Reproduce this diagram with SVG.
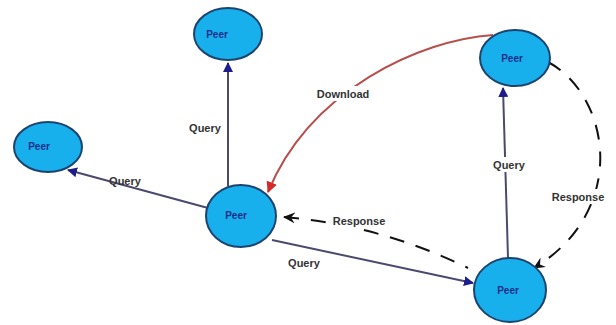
<svg xmlns="http://www.w3.org/2000/svg" width="616" height="325" viewBox="0 0 616 325">
<style>
.peer ellipse{fill:#17b0ec;stroke:#1d4470;stroke-width:2}
.peer text{font-family:"Liberation Sans",Arial,sans-serif;font-size:10px;font-weight:bold;fill:#1a2f8a;text-anchor:middle}
.q{stroke:#4a4a6e;stroke-width:2;fill:none;marker-end:url(#aq)}
.dl{stroke:#b5504c;stroke-width:2;fill:none;marker-end:url(#ad)}
.rs{stroke:#111;stroke-width:2;fill:none;stroke-dasharray:15,12;marker-end:url(#ar)}
.lbl{font-family:"Liberation Sans",Arial,sans-serif;font-size:11px;font-weight:bold;fill:#333;text-anchor:middle}
.bg{fill:#fff}
</style>
<defs>
<marker id="aq" markerWidth="10" markerHeight="10" refX="9" refY="5" orient="auto" markerUnits="userSpaceOnUse"><path d="M0,0 L10,5 L0,10 z" fill="#1c1c8c"/></marker>
<marker id="ad" markerWidth="11" markerHeight="11" refX="10" refY="5.5" orient="auto" markerUnits="userSpaceOnUse"><path d="M0,0 L11,5.5 L0,11 z" fill="#d42a2a"/></marker>
<marker id="ar" markerWidth="12" markerHeight="11" refX="11" refY="5.5" orient="auto" markerUnits="userSpaceOnUse"><path d="M0,0 L12,5.5 L0,11 L4,5.5 z" fill="#111"/></marker>
</defs>
<rect width="616" height="325" fill="#fff"/>
<g id="connectors">
<path class="q" d="M228,186 L228,63"/>
<path class="q" d="M208,208 L68,170"/>
<path class="q" d="M272,240 L473,283"/>
<path class="q" d="M508,258 L503,88"/>
<path class="dl" d="M493,35 C420,40 310,90 268,192"/>
<path class="rs" d="M468,268 Q380,225 284,217" stroke-dashoffset="12"/>
<path class="rs" d="M548,62 C610,95 630,210 534,268"/>
<rect class="bg" x="311" y="86" width="64" height="15"/>
<rect class="bg" x="328" y="214" width="62" height="15"/>
<rect class="bg" x="490" y="157" width="38" height="15"/>
<rect class="bg" x="546" y="189" width="64" height="15"/>
<text class="lbl" x="205" y="132">Query</text>
<text class="lbl" x="125" y="185">Query</text>
<text class="lbl" x="304" y="267">Query</text>
<text class="lbl" x="509" y="169">Query</text>
<text class="lbl" x="343" y="98">Download</text>
<text class="lbl" x="359" y="225">Response</text>
<text class="lbl" x="578" y="201">Response</text>
</g>
<g id="peer-top" class="peer"><ellipse cx="228" cy="34" rx="34" ry="26"/><text x="217" y="38">Peer</text></g>
<g id="peer-left" class="peer"><ellipse cx="48" cy="147" rx="34" ry="25"/><text x="39" y="150">Peer</text></g>
<g id="peer-center" class="peer"><ellipse cx="241" cy="216" rx="35" ry="31"/><text x="236" y="219">Peer</text></g>
<g id="peer-upper-right" class="peer"><ellipse cx="515" cy="58" rx="35" ry="28"/><text x="512" y="62">Peer</text></g>
<g id="peer-bottom-right" class="peer"><ellipse cx="510" cy="290" rx="36" ry="32"/><text x="508" y="294">Peer</text></g>
</svg>
